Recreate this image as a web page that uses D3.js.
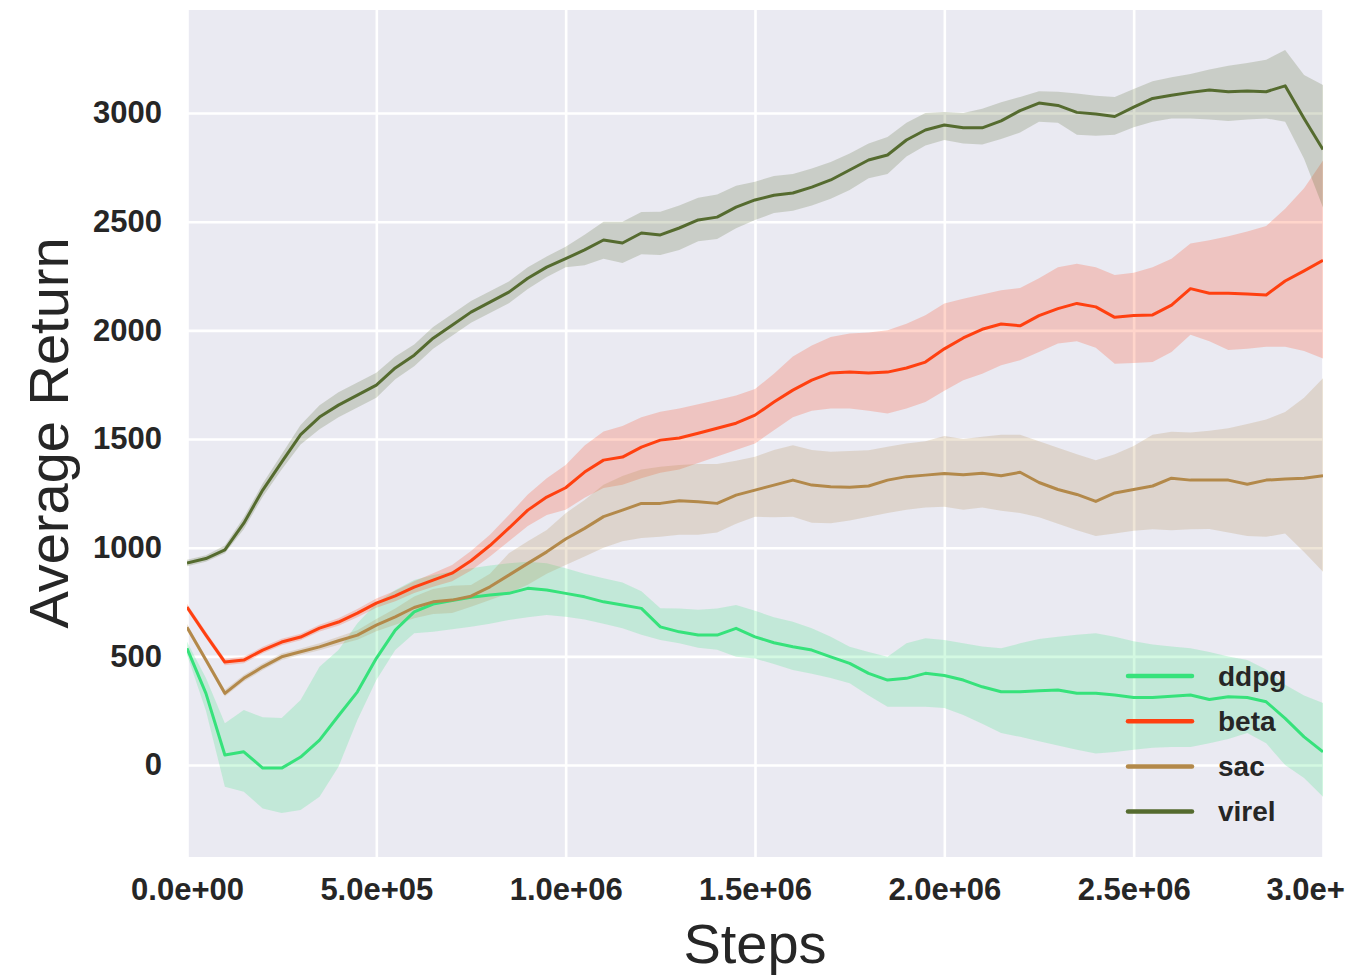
<!DOCTYPE html>
<html lang="en">
<head>
    <meta charset="UTF-8">
    <title>Average Return vs Steps</title>
    <script src="https://d3js.org/d3.v7.min.js"></script>
    <style>
        body { margin: 0; background: #fff; }
        svg text { font-family: "Liberation Sans", Arial, sans-serif; fill: #262626; }
    </style>
</head>
<body>
    <div id="chart"></div>

    <script>
        // training steps (x values, every 50k)
        const steps = [0, 50000, 100000, 150000, 200000, 250000, 300000, 350000, 400000, 450000,
            500000, 550000, 600000, 650000, 700000, 750000, 800000, 850000, 900000, 950000,
            1000000, 1050000, 1100000, 1150000, 1200000, 1250000, 1300000, 1350000, 1400000, 1450000,
            1500000, 1550000, 1600000, 1650000, 1700000, 1750000, 1800000, 1850000, 1900000, 1950000,
            2000000, 2050000, 2100000, 2150000, 2200000, 2250000, 2300000, 2350000, 2400000, 2450000,
            2500000, 2550000, 2600000, 2650000, 2700000, 2750000, 2800000, 2850000, 2900000, 2950000,
            3000000];

        const ddpgMean = [537, 330, 46, 61, -14, -14, 37, 115, 227, 337,
            491, 621, 705, 741, 757, 772, 782, 790, 813, 805,
            790, 774, 751, 736, 721, 636, 613, 598, 598, 629,
            590, 563, 544, 529, 498, 468, 422, 391, 399, 422,
            412, 391, 360, 337, 337, 342, 345, 330, 330, 322,
            311, 311, 317, 322, 302, 314, 311, 291, 215, 130,
            61];
        const ddpgLow = [507, 250, -100, -123, -200, -221, -207, -146, -8, 207,
            391, 529, 606, 613, 625, 636, 650, 667, 680, 690,
            682, 670, 650, 630, 600, 575, 560, 540, 530, 498,
            490, 465, 437, 420, 400, 376, 320, 268, 268, 268,
            262, 230, 190, 147, 130, 110, 90, 70, 53, 60,
            70, 80, 83, 83, 100, 120, 147, 100, 0, -60,
            -146];
        const ddpgHigh = [567, 400, 192, 253, 220, 216, 299, 452, 529, 652,
            744, 805, 851, 874, 890, 906, 918, 928, 935, 928,
            905, 880, 860, 840, 800, 721, 720, 715, 720, 736,
            710, 680, 659, 630, 590, 544, 520, 498, 560, 583,
            575, 560, 545, 537, 560, 580, 590, 600, 606, 590,
            570, 555, 545, 537, 520, 500, 483, 440, 370, 320,
            285];

        const betaMean = [727, 598, 474, 483, 529, 566, 589, 630, 658, 699,
            745, 778, 819, 851, 883, 940, 1010, 1090, 1173, 1233,
            1276, 1348, 1403, 1417, 1463, 1495, 1505, 1527, 1550, 1573,
            1610, 1670, 1725, 1771, 1804, 1808, 1804, 1808, 1827, 1854,
            1915, 1965, 2005, 2029, 2021, 2068, 2100, 2124, 2108, 2060,
            2068, 2071, 2116, 2192, 2171, 2171, 2167, 2163, 2227, 2274,
            2322];
        const betaLow = [712, 583, 459, 468, 514, 551, 574, 615, 641, 680,
            724, 754, 792, 820, 846, 895, 960, 1030, 1100, 1150,
            1175, 1230, 1275, 1290, 1320, 1345, 1360, 1390, 1420, 1450,
            1480, 1540, 1600, 1630, 1640, 1641, 1630, 1618, 1640, 1670,
            1722, 1770, 1800, 1840, 1863, 1900, 1940, 1950, 1920, 1846,
            1850, 1855, 1900, 1980, 1950, 1910, 1915, 1925, 1925, 1905,
            1870];
        const betaHigh = [742, 613, 489, 498, 544, 581, 604, 645, 675, 718,
            766, 802, 846, 882, 920, 985, 1060, 1150, 1245, 1320,
            1380, 1470, 1535, 1560, 1600, 1625, 1640, 1660, 1680, 1700,
            1730, 1800, 1880, 1930, 1970, 1986, 1990, 2001, 2030, 2070,
            2124, 2145, 2165, 2185, 2195, 2240, 2290, 2306, 2290, 2255,
            2265, 2290, 2330, 2400, 2415, 2433, 2455, 2480, 2560, 2654,
            2781];

        const sacMean = [634, 483, 330, 399, 452, 498, 521, 544, 572, 598,
            644, 682, 725, 751, 759, 777, 820, 874, 928, 981,
            1040, 1089, 1143, 1173, 1204, 1204, 1216, 1211, 1204, 1242,
            1265, 1288, 1311, 1288, 1281, 1278, 1284, 1311, 1327, 1334,
            1342, 1336, 1343, 1331, 1347, 1300, 1268, 1245, 1213, 1252,
            1268, 1284, 1320, 1311, 1311, 1311, 1292, 1311, 1316, 1320,
            1331];
        const sacLow = [619, 468, 315, 384, 437, 483, 506, 528, 554, 576,
            616, 645, 675, 695, 700, 728, 760, 790, 830, 880,
            920, 960, 1000, 1030, 1045, 1050, 1060, 1060, 1070, 1110,
            1142, 1140, 1142, 1115, 1112, 1125, 1142, 1160, 1175, 1185,
            1189, 1175, 1185, 1170, 1160, 1140, 1110, 1080, 1054, 1065,
            1078, 1085, 1080, 1085, 1086, 1070, 1054, 1050, 1065, 980,
            889];
        const sacHigh = [649, 498, 347, 414, 467, 513, 536, 560, 590, 620,
            672, 720, 775, 810, 825, 828, 880, 975, 1030, 1081,
            1159, 1220, 1290, 1330, 1360, 1373, 1380, 1385, 1385, 1400,
            1418, 1450, 1472, 1450, 1441, 1445, 1449, 1465, 1480, 1490,
            1514, 1500, 1510, 1520, 1520, 1490, 1460, 1430, 1403, 1430,
            1468, 1520, 1534, 1530, 1538, 1550, 1569, 1590, 1624, 1690,
            1780];

        const virelMean = [930, 950, 990, 1113, 1265, 1394, 1520, 1601, 1656, 1702,
            1748, 1827, 1886, 1964, 2024, 2084, 2130, 2176, 2240, 2291,
            2330, 2370, 2416, 2402, 2448, 2439, 2471, 2508, 2521, 2567,
            2600, 2622, 2632, 2659, 2692, 2738, 2784, 2807, 2876, 2922,
            2945, 2932, 2932, 2964, 3011, 3046, 3035, 3003, 2995, 2984,
            3027, 3067, 3082, 3095, 3106, 3098, 3101, 3098, 3125, 2975,
            2832];
        const virelLow = [915, 935, 975, 1085, 1235, 1360, 1475, 1545, 1600, 1645,
            1690, 1775, 1835, 1915, 1975, 2035, 2080, 2125, 2190, 2245,
            2290, 2300, 2330, 2310, 2350, 2347, 2370, 2410, 2420, 2470,
            2508, 2540, 2550, 2575, 2605, 2646, 2700, 2720, 2800, 2850,
            2876, 2860, 2855, 2880, 2910, 2960, 2955, 2900, 2895, 2900,
            2935, 2960, 2975, 2975, 2970, 2963, 2970, 2975, 2960, 2790,
            2565];
        const virelHigh = [945, 965, 1010, 1140, 1295, 1430, 1565, 1655, 1715, 1760,
            1805, 1880, 1935, 2015, 2075, 2135, 2180, 2225, 2290, 2340,
            2385, 2440, 2500, 2500, 2545, 2546, 2575, 2610, 2625, 2665,
            2684, 2710, 2720, 2745, 2775, 2814, 2860, 2890, 2955, 3000,
            3005, 3000, 3020, 3050, 3074, 3100, 3098, 3090, 3080, 3074,
            3110, 3146, 3165, 3180, 3200, 3217, 3230, 3245, 3290, 3175,
            3129];

        const seriesNames = ["ddpg", "beta", "sac", "virel"];
        const seriesColors = ["#36e27b", "#ff4010", "#b3894a", "#556b2f"];

        const xTicks = [0, 500000, 1000000, 1500000, 2000000, 2500000, 3000000];
        // the last label is cut at the picture edge in the original figure
        const xTickLabels = ["0.0e+00", "5.0e+05", "1.0e+06", "1.5e+06", "2.0e+06", "2.5e+06", "3.0e+"];
        const yTicks = [0, 500, 1000, 1500, 2000, 2500, 3000];

        const series = [
            { mean: ddpgMean, low: ddpgLow, high: ddpgHigh },
            { mean: betaMean, low: betaLow, high: betaHigh },
            { mean: sacMean, low: sacLow, high: sacHigh },
            { mean: virelMean, low: virelLow, high: virelHigh }
        ];

        const width = 1353, height = 978;
        const plotL = 187, plotR = 1323, plotT = 10, plotB = 857;

        const svg = d3.select('#chart').append('svg')
            .attr('width', width)
            .attr('height', height);

        const x = d3.scaleLinear().domain([0, 3000000]).range([plotL, plotR]);
        const y = d3.scaleLinear().domain([-423, 3474]).range([plotB, plotT]);

        svg.append('rect')
            .attr('x', plotL).attr('y', plotT)
            .attr('width', plotR - plotL).attr('height', plotB - plotT)
            .attr('fill', '#eaeaf2');

        svg.append('clipPath').attr('id', 'plotclip')
            .append('rect')
            .attr('x', plotL).attr('y', plotT)
            .attr('width', plotR - plotL).attr('height', plotB - plotT);

        // gridlines + tick labels
        const xAxis = svg.append('g')
            .attr('transform', `translate(0,${plotB})`)
            .call(d3.axisBottom(x).tickValues(xTicks)
                .tickFormat((d, i) => xTickLabels[i])
                .tickSize(-(plotB - plotT)).tickPadding(21));
        const yAxis = svg.append('g')
            .attr('transform', `translate(${plotL},0)`)
            .call(d3.axisLeft(y).tickValues(yTicks)
                .tickFormat(d3.format('d'))
                .tickSize(-(plotR - plotL)).tickPadding(25));

        [xAxis, yAxis].forEach(ax => {
            ax.select('.domain').remove();
            ax.selectAll('line').attr('stroke', '#ffffff').attr('stroke-width', 2.6);
            ax.selectAll('text')
                .attr('fill', '#262626')
                .style('font-size', '31px')
                .style('font-weight', 'bold');
        });
        // keep the truncated last label where the full one would start
        xAxis.selectAll('.tick').filter(d => d === 3000000).select('text')
            .attr('text-anchor', 'start')
            .attr('x', -57);

        // bands and lines
        const plot = svg.append('g').attr('clip-path', 'url(#plotclip)');

        const area = d3.area()
            .x((d, i) => x(steps[i]))
            .y0(d => y(d[0]))
            .y1(d => y(d[1]));
        const line = d3.line()
            .x((d, i) => x(steps[i]))
            .y(d => y(d));

        series.forEach((s, k) => {
            const band = s.low.map((v, i) => [v, s.high[i]]);
            plot.append('path')
                .attr('d', area(band))
                .attr('fill', seriesColors[k])
                .attr('fill-opacity', 0.22);
        });
        series.forEach((s, k) => {
            plot.append('path')
                .attr('d', line(s.mean))
                .attr('fill', 'none')
                .attr('stroke', seriesColors[k])
                .attr('stroke-width', 3)
                .attr('stroke-linejoin', 'round');
        });

        // legend
        const legend = svg.append('g');
        seriesNames.forEach((name, k) => {
            const ly = 676 + k * 45.2;
            legend.append('line')
                .attr('x1', 1128).attr('x2', 1192)
                .attr('y1', ly).attr('y2', ly)
                .attr('stroke', seriesColors[k])
                .attr('stroke-width', 4.5)
                .attr('stroke-linecap', 'round');
            legend.append('text')
                .attr('x', 1218).attr('y', ly)
                .attr('dy', '0.35em')
                .style('font-size', '28px')
                .style('font-weight', 'bold')
                .text(name);
        });

        // axis titles
        svg.append('text')
            .attr('x', 755).attr('y', 963)
            .attr('text-anchor', 'middle')
            .style('font-size', '56px')
            .text('Steps');
        svg.append('text')
            .attr('transform', 'translate(68,433) rotate(-90)')
            .attr('text-anchor', 'middle')
            .style('font-size', '56px')
            .text('Average Return');
    </script>
</body>
</html>
